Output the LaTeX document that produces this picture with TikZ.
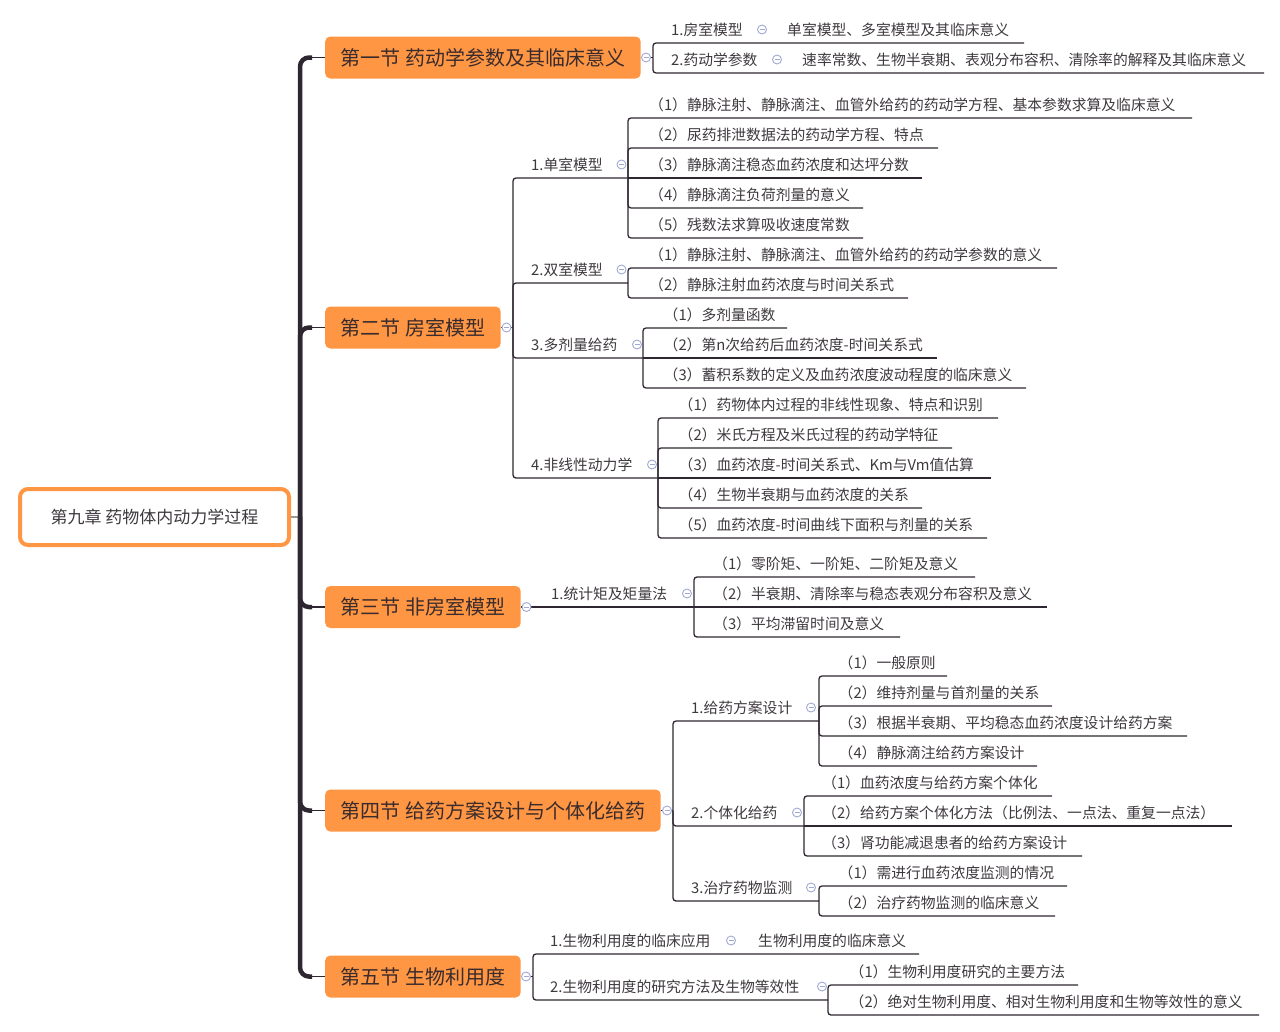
\documentclass[tikz,border=0pt]{standalone}
\usepackage{fontspec}
\setmainfont{Noto Sans CJK SC}
\definecolor{orng}{RGB}{255,150,68}
\definecolor{lnc}{RGB}{46,38,48}
\definecolor{txc}{RGB}{62,57,62}
\definecolor{sectx}{RGB}{58,44,44}
\definecolor{icc}{RGB}{160,170,212}
\tikzset{
  lt/.style={anchor=west, inner sep=0pt, font=\fontsize{14.8}{18}\selectfont, text=txc, text height=13pt, text depth=1.8pt},
  sec/.style={anchor=west, fill=orng, rounded corners=5pt, minimum height=42pt, inner xsep=15.5pt, inner ysep=0pt,
    font=\fontsize{20}{24}\selectfont, text=sectx, text height=17.6pt, text depth=2.4pt},
  rootbox/.style={draw=orng, line width=4pt, fill=white, rounded corners=8pt, minimum width=269pt, minimum height=56pt,
    inner sep=0pt, font=\fontsize{17}{20}\selectfont, text=txc, text height=15pt, text depth=2pt},
  ul/.style={draw=lnc, line width=1.3pt, rounded corners=3pt},
  spine/.style={draw=lnc, line width=4.5pt, rounded corners=9pt},
  spinethin/.style={draw=lnc, line width=1.8pt},
  grayl/.style={draw=gray!80, line width=1.5pt},
  tog/.style={circle, draw=icc, fill=white, line width=0.9pt, minimum size=9pt, inner sep=0pt,
    path picture={\draw[icc, line width=0.9pt] ([xshift=-2.5pt]path picture bounding box.center) -- ([xshift=2.5pt]path picture bounding box.center);}}
}
% leaf with bend: name, bracket x, parent y, text x, underline y, end x, text
\newcommand\leafb[7]{\draw[ul] (#2,#3) |- (#6,#5); \node[lt] (#1) at (#4,#5-13.5) {#7};}
% leaf on the parent's line
\newcommand\leafs[6]{\draw[ul] (#2,#4) -- (#5,#4); \node[lt] (#1) at (#3,#4-13.5) {#6};}
\begin{document}
\begin{tikzpicture}[x=1pt,y=-1pt]
\useasboundingbox (0,0) rectangle (1280,1031);

% root and sections
\node[rootbox] (root) at (154.5,517) {第九章 药物体内动力学过程};
\node[sec] (s1) at (325,57.5) {第一节 药动学参数及其临床意义};
\node[sec] (s2) at (325,327.5) {第二节 房室模型};
\node[sec] (s3) at (325,607) {第三节 非房室模型};
\node[sec] (s4) at (325,810.5) {第四节 给药方案设计与个体化给药};
\node[sec] (s5) at (325,976.5) {第五节 生物利用度};

% spine
\coordinate (hub) at (300,517);
\draw[grayl] (root.east) -- (hub);
\foreach \s in {s1,s2,s3,s4,s5}{
  \draw[spine] (hub) |- ([xshift=-13pt]\s.west);
  \draw[spinethin] ([xshift=-16pt]\s.west) -- (\s.west);
}

% ---------- section 1 ----------
\coordinate (b1) at (653,57.5);
\draw[ul] (s1.east) -- (b1);
\draw[ul] (b1) |- (1024,43);
\draw[ul] (b1) |- (1264,73);
\node[lt] (a1) at (671,29.5) {1.房室模型};
\node[lt] (a1x) at (787,29.5) {单室模型、多室模型及其临床意义};
\node[lt] (a2) at (671,59.5) {2.药动学参数};
\node[lt] (a2x) at (802,59.5) {速率常数、生物半衰期、表观分布容积、清除率的解释及其临床意义};

% ---------- section 2 ----------
\coordinate (b2) at (513,327.5);
\draw[ul] (s2.east) -- (b2);
\draw[ul] (b2) |- (628,178);
\draw[ul] (b2) |- (628,283);
\draw[ul] (b2) |- (643,358);
\draw[ul] (b2) |- (658,478);
\node[lt] (c1) at (531,164.5) {1.单室模型};
\node[lt] (c2) at (531,269.5) {2.双室模型};
\node[lt] (c3) at (531,344.5) {3.多剂量给药};
\node[lt] (c4) at (531,464.5) {4.非线性动力学};

\leafb{c11}{628}{178}{649}{118}{1192}{（1）静脉注射、静脉滴注、血管外给药的药动学方程、基本参数求算及临床意义}
\leafb{c12}{628}{178}{649}{148}{938}{（2）尿药排泄数据法的药动学方程、特点}
\leafs{c13}{628}{649}{178}{922}{（3）静脉滴注稳态血药浓度和达坪分数}
\leafb{c14}{628}{178}{649}{208}{863}{（4）静脉滴注负荷剂量的意义}
\leafb{c15}{628}{178}{649}{238}{863}{（5）残数法求算吸收速度常数}

\leafb{c21}{628}{283}{649}{268}{1057}{（1）静脉注射、静脉滴注、血管外给药的药动学参数的意义}
\leafb{c22}{628}{283}{649}{298}{908}{（2）静脉注射血药浓度与时间关系式}

\leafb{c31}{643}{358}{663.5}{328}{787}{（1）多剂量函数}
\leafs{c32}{643}{663.5}{358}{937}{（2）第n次给药后血药浓度-时间关系式}
\leafb{c33}{643}{358}{663.5}{388}{1026}{（3）蓄积系数的定义及血药浓度波动程度的临床意义}

\leafb{c41}{658}{478}{678.5}{418}{998}{（1）药物体内过程的非线性现象、特点和识别}
\leafb{c42}{658}{478}{678.5}{448}{952}{（2）米氏方程及米氏过程的药动学特征}
\leafs{c43}{658}{678.5}{478}{991}{（3）血药浓度-时间关系式、Km与Vm值估算}
\leafb{c44}{658}{478}{678.5}{508}{922}{（4）生物半衰期与血药浓度的关系}
\leafb{c45}{658}{478}{678.5}{538}{987}{（5）血药浓度-时间曲线下面积与剂量的关系}

% ---------- section 3 ----------
\coordinate (b3) at (533,607);
\draw[ul] (s3.east) -- (b3) -- (694,607);
\node[lt] (d1) at (551,593.5) {1.统计矩及矩量法};
\leafb{d11}{694}{607}{713}{577}{975}{（1）零阶矩、一阶矩、二阶矩及意义}
\leafs{d12}{694}{713}{607}{1047}{（2）半衰期、清除率与稳态表观分布容积及意义}
\leafb{d13}{694}{607}{713}{637}{900}{（3）平均滞留时间及意义}

% ---------- section 4 ----------
\coordinate (b4) at (673,810.5);
\draw[ul] (s4.east) -- (b4);
\draw[ul] (b4) |- (819,721);
\draw[ul] (b4) |- (804,826);
\draw[ul] (b4) |- (819,901);
\node[lt] (e1) at (691,707.5) {1.给药方案设计};
\node[lt] (e2) at (691,812.5) {2.个体化给药};
\node[lt] (e3) at (691,887.5) {3.治疗药物监测};

\leafb{e11}{819}{721}{838.5}{676}{947}{（1）一般原则}
\leafb{e12}{819}{721}{838.5}{706}{1052}{（2）维持剂量与首剂量的关系}
\leafb{e13}{819}{721}{838.5}{736}{1187}{（3）根据半衰期、平均稳态血药浓度设计给药方案}
\leafb{e14}{819}{721}{838.5}{766}{1037}{（4）静脉滴注给药方案设计}

\leafb{e21}{804}{826}{822}{796}{1052}{（1）血药浓度与给药方案个体化}
\leafs{e22}{804}{822}{826}{1232}{（2）给药方案个体化方法（比例法、一点法、重复一点法）}
\leafb{e23}{804}{826}{822}{856}{1082}{（3）肾功能减退患者的给药方案设计}

\leafb{e31}{819}{901}{838.5}{886}{1067}{（1）需进行血药浓度监测的情况}
\leafb{e32}{819}{901}{838.5}{916}{1055}{（2）治疗药物监测的临床意义}

% ---------- section 5 ----------
\coordinate (b5) at (533,976.5);
\draw[ul] (s5.east) -- (b5);
\draw[ul] (b5) |- (919,954);
\draw[ul] (b5) |- (828,1000);
\node[lt] (f1) at (550,940.5) {1.生物利用度的临床应用};
\node[lt] (f1x) at (758,940.5) {生物利用度的临床意义};
\node[lt] (f2) at (550,986.5) {2.生物利用度的研究方法及生物等效性};
\leafb{f21}{828}{1000}{849.5}{985}{1078}{（1）生物利用度研究的主要方法}
\leafb{f22}{828}{1000}{849.5}{1015}{1259}{（2）绝对生物利用度、相对生物利用度和生物等效性的意义}

% ---------- collapse icons ----------
\node[tog] (t1) at (646,57.5) {};
\node[tog] (ta1) at (762,29.5) {};
\node[tog] (ta2) at (777,59.5) {};
\node[tog] (t2) at (506.5,327.5) {};
\node[tog] (tc1) at (621.5,164.5) {};
\node[tog] (tc2) at (621.5,269.5) {};
\node[tog] (tc3) at (637,344.5) {};
\node[tog] (tc4) at (652,464.5) {};
\node[tog] (t3) at (526.5,607) {};
\node[tog] (td1) at (687,593.5) {};
\node[tog] (t4) at (667,810.5) {};
\node[tog] (te1) at (811,707.5) {};
\node[tog] (te2) at (797,812.5) {};
\node[tog] (te3) at (811,887.5) {};
\node[tog] (t5) at (526,976.5) {};
\node[tog] (tf1) at (731,940.5) {};
\node[tog] (tf2) at (822,986.5) {};
\end{tikzpicture}
\end{document}
